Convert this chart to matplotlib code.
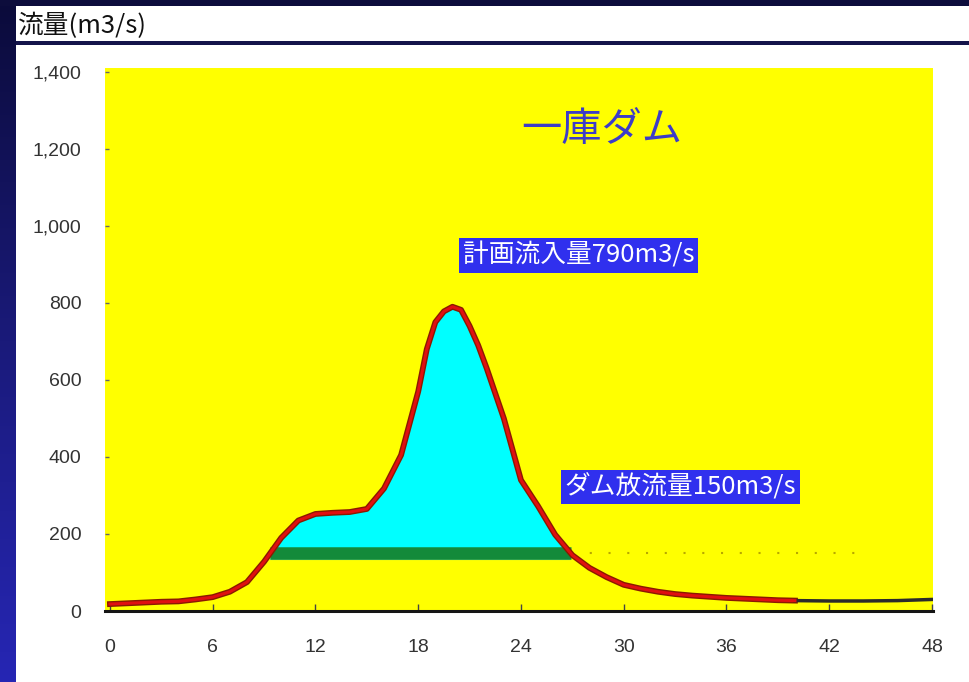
import numpy as np
import matplotlib
matplotlib.use("Agg")
import matplotlib.pyplot as plt
from matplotlib.patches import Rectangle
from matplotlib.colors import LinearSegmentedColormap

# ---- data ----
hours = [0, 1, 2, 3, 4, 5, 6, 7, 8, 9, 10, 11, 12, 13, 14, 15, 16, 17, 18,
         18.5, 19, 19.5, 20, 20.5, 21, 21.5, 22, 22.5, 23, 23.5, 24, 25, 26,
         27, 28, 29, 30, 31, 32, 33, 34, 35, 36, 37, 38, 39, 40, 42, 44, 46, 48]
inflow = [18, 20, 22, 24, 25, 30, 36, 50, 75, 128, 190, 235, 252, 255, 257, 265,
          318, 405, 570, 680, 750, 778, 790, 782, 740, 690, 630, 565, 500, 420, 340,
          272, 198, 145, 112, 88, 68, 58, 50, 44, 40, 37, 34, 32, 30, 28, 27, 26, 26, 27, 30]
release_hours = [9.35, 26.9]
release_flow = [150, 150]
release_tail_hours = [26.9, 44]
x_ticks = [0, 6, 12, 18, 24, 30, 36, 42, 48]
x_labels = ["0", "6", "12", "18", "24", "30", "36", "42", "48"]
y_ticks = [0, 200, 400, 600, 800, 1000, 1200, 1400]
y_labels = ["0", "200", "400", "600", "800", "1,000", "1,200", "1,400"]
title = "一庫ダム"
label_inflow = "計画流入量790m3/s"
label_release = "ダム放流量150m3/s"
unit_label = "流量(m3/s)"

plt.rcParams['font.family'] = ['Noto Sans CJK JP', 'DejaVu Sans']

W, H = 969, 682
fig = plt.figure(figsize=(W / 100, H / 100), dpi=100)
fig.patch.set_facecolor("white")

# left navy gradient strip
ax_bg = fig.add_axes([0, 0, 16 / W, 1])
grad = np.linspace(0, 1, 256).reshape(-1, 1)
cm = LinearSegmentedColormap.from_list("navy", ["#0b0b3a", "#1a1a7a", "#2626b4"])
ax_bg.imshow(grad, aspect="auto", cmap=cm, extent=[0, 1, 0, 1], origin="upper")
ax_bg.axis("off")

# top dark bar and header line
fig.patches.append(Rectangle((0, 1 - 6 / H), 1, 6 / H, transform=fig.transFigure,
                             facecolor="#0d0d3c", edgecolor="none", zorder=0))
fig.patches.append(Rectangle((16 / W, 1 - 45 / H), 1, 4 / H, transform=fig.transFigure,
                             facecolor="#14144a", edgecolor="none", zorder=0))
fig.text(18 / W, 1 - 26 / H, unit_label, fontsize=18.5, color="#111111",
         ha="left", va="center")

# main axes
ax = fig.add_axes([105 / W, 1 - 611 / H, 828 / W, 543 / H])
ax.set_facecolor("#ffff00")
ax.set_xlim(-0.29, 48.06)
ax.set_ylim(0, 1410)

t = np.array(hours)
q = np.array(inflow)
ax.fill_between(t, q, 150, where=q > 150, interpolate=True, color="#00ffff", zorder=2)
ax.plot(release_hours, np.array(release_flow) - 12, color="#7fe07f", lw=3, zorder=3,
        solid_capstyle="butt")
ax.plot(release_hours, release_flow, color="#138a3a", lw=9, zorder=3, solid_capstyle="butt")
ax.plot(release_tail_hours, [150, 150], color="#b8a800", lw=1.5, ls=(0, (1, 8)), zorder=2)

mask = t <= 40
ax.plot(t[mask], q[mask], color="#8a1a00", lw=4.2, zorder=4, solid_joinstyle="round")
ax.plot(t[mask], q[mask], color="#e01010", lw=2.2, zorder=5, solid_joinstyle="round")
ax.plot(t[t >= 40], q[t >= 40], color="#2a2a2a", lw=2.5, zorder=4)

ax.text(24.0, 1250, title, fontsize=29, color="#3c3cc8", ha="left", va="center", zorder=6)
ax.text(20.6, 923, label_inflow, fontsize=18.5, color="white", ha="left", va="center", zorder=6,
        bbox=dict(boxstyle="square,pad=0.16", facecolor="#3030ee", edgecolor="none"))
ax.text(26.55, 322, label_release, fontsize=18.5, color="white", ha="left", va="center", zorder=6,
        bbox=dict(boxstyle="square,pad=0.16", facecolor="#3030ee", edgecolor="none"))

for s in ["top", "right", "left"]:
    ax.spines[s].set_visible(False)
ax.spines["bottom"].set_color("#151515")
ax.spines["bottom"].set_linewidth(2.2)
ax.spines["bottom"].set_zorder(6)

ax.set_xticks(x_ticks)
ax.set_xticklabels(x_labels)
ax.set_yticks(y_ticks)
ax.set_yticklabels(y_labels)
for lbl in ax.get_xticklabels() + ax.get_yticklabels():
    lbl.set_family(['Liberation Sans Narrow', 'Liberation Sans', 'DejaVu Sans'])
    lbl.set_fontsize(14)
    lbl.set_color("#333333")
ax.tick_params(axis="x", direction="in", length=5, width=1, color="#444444", pad=20)
ax.tick_params(axis="y", direction="in", length=3, width=1, color="#666666", pad=17)

fig.savefig("out.png", dpi=100, facecolor=fig.get_facecolor())
